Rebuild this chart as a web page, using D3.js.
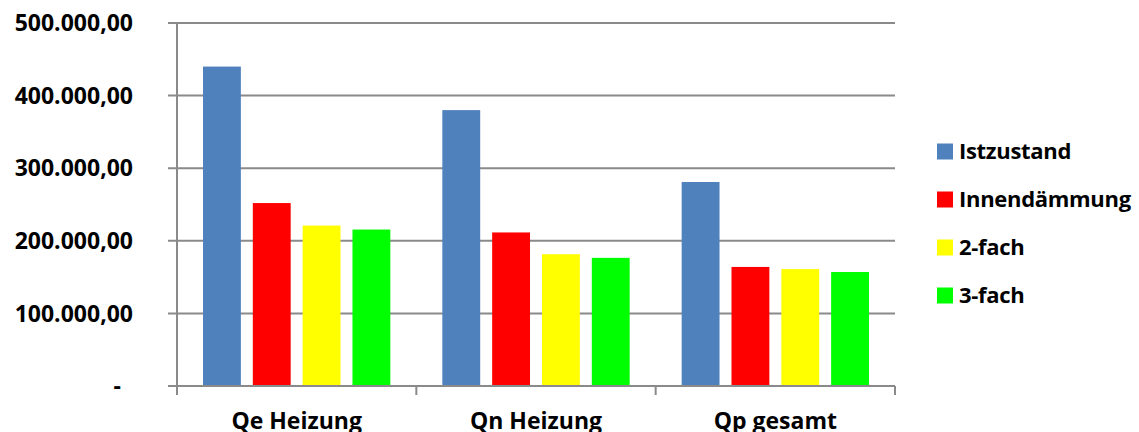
<!DOCTYPE html>
<html>
<head>
<meta charset="utf-8">
<script src="https://cdn.jsdelivr.net/npm/d3@7"></script>
<style>
  html, body { margin: 0; padding: 0; background: #fff; }
  svg { display: block; }
  text { font-family: "Open Sans", Lato, sans-serif; font-weight: bold; fill: #000; }
</style>
</head>
<body>
<svg id="chart" width="1139" height="432"></svg>
<script>
// Energiebedarf je Variante (kWh/a)
const categories = ["Qe Heizung", "Qn Heizung", "Qp gesamt"];
const seriesNames = ["Istzustand", "Innendämmung", "2-fach", "3-fach"];
const seriesColors = ["#4F81BD", "#FF0000", "#FFFF00", "#00FF00"];
const istzustand    = [440000, 380000, 281000];
const innendaemmung = [252000, 211500, 164000];
const zweifach      = [221000, 181500, 161000];
const dreifach      = [215500, 176500, 157000];
const yTicks = [0, 100000, 200000, 300000, 400000, 500000];

const seriesValues = [istzustand, innendaemmung, zweifach, dreifach];

const svg = d3.select("#chart");
const plotLeft = 177, plotRight = 895, plotTop = 23, plotBottom = 386;

const y = d3.scaleLinear().domain([0, 500000]).range([plotBottom, plotTop]);
const x0 = d3.scaleBand().domain(categories).range([plotLeft, plotRight]).paddingInner(0).paddingOuter(0);
const x1 = d3.scaleBand().domain(seriesNames).range([26, x0.bandwidth() - 26]).paddingInner(0.24).paddingOuter(0);

const fmt = v => v === 0 ? "-" : d3.format(",.2f")(v).replace(/,/g, "#").replace(/\./g, ",").replace(/#/g, ".");

// horizontal gridlines
svg.append("g").selectAll("line").data(yTicks).join("line")
  .attr("x1", plotLeft - 9).attr("x2", plotRight)
  .attr("y1", d => y(d)).attr("y2", d => y(d))
  .attr("stroke", "#8a8a8a").attr("stroke-width", 2);

// y tick labels
svg.append("g").selectAll("text").data(yTicks).join("text")
  .attr("x", d => d === 0 ? 121 : 133)
  .attr("y", d => y(d))
  .attr("dy", "0.36em")
  .attr("text-anchor", "end")
  .style("font-size", "23px")
  .text(fmt);

// bars
const groups = svg.append("g").selectAll("g").data(categories).join("g")
  .attr("transform", d => `translate(${x0(d)},0)`);
groups.selectAll("rect")
  .data((c, ci) => seriesNames.map((s, si) => ({ s, si, v: seriesValues[si][ci] })))
  .join("rect")
  .attr("x", d => x1(d.s))
  .attr("width", x1.bandwidth())
  .attr("y", d => y(d.v))
  .attr("height", d => plotBottom - y(d.v))
  .attr("fill", d => seriesColors[d.si]);

// axis lines
svg.append("line").attr("x1", plotLeft).attr("x2", plotLeft).attr("y1", plotTop).attr("y2", plotBottom + 9)
  .attr("stroke", "#8a8a8a").attr("stroke-width", 2);
svg.append("line").attr("x1", plotLeft - 9).attr("x2", plotRight).attr("y1", plotBottom).attr("y2", plotBottom)
  .attr("stroke", "#8a8a8a").attr("stroke-width", 2);
const catEdges = categories.map(c => x0(c) + x0.bandwidth());
svg.append("g").selectAll("line").data(catEdges).join("line")
  .attr("x1", d => d).attr("x2", d => d)
  .attr("y1", plotBottom).attr("y2", plotBottom + 9)
  .attr("stroke", "#8a8a8a").attr("stroke-width", 2);

// category labels
svg.append("g").selectAll("text").data(categories).join("text")
  .attr("x", d => x0(d) + x0.bandwidth() / 2)
  .attr("y", 429)
  .attr("text-anchor", "middle")
  .style("font-size", "23px")
  .text(d => d);

// legend
const legend = svg.append("g").selectAll("g").data(seriesNames).join("g")
  .attr("transform", (d, i) => `translate(937,${151.5 + i * 48})`);
legend.append("rect").attr("x", 0).attr("y", -8).attr("width", 16).attr("height", 16)
  .attr("fill", (d, i) => seriesColors[i]);
legend.append("text").attr("x", 22).attr("y", 0).attr("dy", "0.36em")
  .style("font-size", "22px")
  .style("letter-spacing", "-0.3px")
  .text(d => d);
</script>
</body>
</html>
